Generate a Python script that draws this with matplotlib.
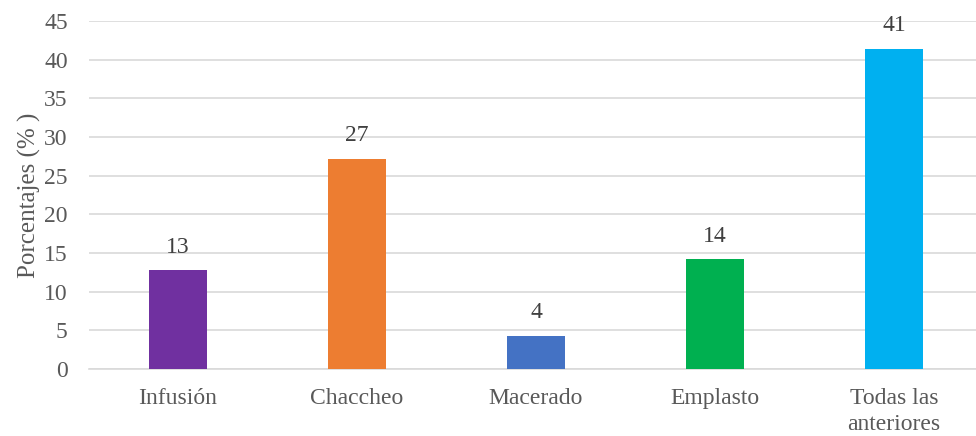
import matplotlib.pyplot as plt
import numpy as np

categories = ['Infusión', 'Chaccheo', 'Macerado', 'Emplasto', 'Todas las\nanteriores']
values = [12.8, 27.2, 4.3, 14.2, 41.4]
labels = ['13', '27', '4', '14', '41']
colors = ['#7030A0', '#ED7D31', '#4472C4', '#00B050', '#00B0F0']

text_color = '#595959'
grid_color = '#D9D9D9'

plt.rcParams['font.family'] = ['Liberation Serif', 'DejaVu Serif']
plt.rcParams['font.size'] = 17

fig = plt.figure(figsize=(9.76, 4.36), dpi=100)
ax = fig.add_axes([0.0907, 0.1537, 0.9093, 0.7981])

x = np.arange(len(categories))
bars = ax.bar(x, values, width=0.32, color=colors, zorder=3)
ax.bar_label(bars, labels=labels, padding=9, color='#404040', fontsize=17)

ax.set_xlim(-0.5, 4.458)
ax.set_ylim(0, 45)
ax.set_yticks(np.arange(0, 46, 5))
ax.set_xticks(x)
ax.set_xticklabels(categories, linespacing=1.3)

ax.grid(axis='y', color=grid_color, linewidth=1.2, zorder=0)
for side in ['top', 'right', 'left']:
    ax.spines[side].set_visible(False)
ax.spines['bottom'].set_color(grid_color)
ax.spines['bottom'].set_linewidth(1.2)

ax.tick_params(axis='y', length=0, pad=15, colors=text_color)
ax.tick_params(axis='x', length=0, pad=14, colors=text_color)
ax.set_ylabel('Porcentajes (% )', color=text_color, fontsize=18, labelpad=2)

fig.savefig('out.png', dpi=100)
